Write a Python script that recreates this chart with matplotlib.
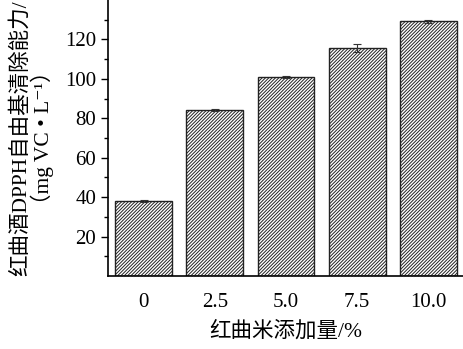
import numpy as np
import matplotlib
matplotlib.use('Agg')
import matplotlib.pyplot as plt

plt.rcParams['font.family'] = ['Liberation Serif', 'Noto Sans CJK SC', 'DejaVu Sans']
plt.rcParams['hatch.linewidth'] = 0.7
plt.rcParams['hatch.color'] = '#222222'

labels = ['0', '2.5', '5.0', '7.5', '10.0']
values = [38.0, 84.3, 100.7, 115.6, 129.1]
errors = [0.4, 0.6, 0.5, 2.0, 1.0]

fig = plt.figure(figsize=(4.64, 3.49), dpi=100)
ax = fig.add_axes([108/464, 73/349, 1 - 108/464, 276/349])

x = np.arange(len(labels))
ax.bar(x, values, width=0.8, color='white', edgecolor='#222222', hatch='//////////',
       linewidth=1.0, yerr=errors, capsize=3,
       error_kw=dict(ecolor='#333333', elinewidth=0.8, capthick=0.8))

ax.set_xlim(-0.5, 4.5)
ax.set_ylim(0, 140)
ax.set_xticks(x)
ax.set_xticklabels(labels, fontsize=15)
ax.set_yticks([20, 40, 60, 80, 100, 120])
ax.set_yticks(np.arange(10, 140, 20), minor=True)
ax.tick_params(axis='y', which='major', direction='out', length=5, width=1, labelsize=15)
ax.tick_params(axis='y', which='minor', direction='out', length=3, width=1)
ax.tick_params(axis='x', length=0, pad=12)
for s in ['top', 'right']:
    ax.spines[s].set_visible(False)
for s in ['left', 'bottom']:
    ax.spines[s].set_linewidth(1.2)

ax.set_xlabel('红曲米添加量/%', fontsize=15.5, labelpad=7)
ax.set_ylabel('红曲酒DPPH自由基清除能力/\n（mg VC • L⁻¹）', fontsize=15.5,
              linespacing=1.0, labelpad=8)

fig.savefig('out.png', dpi=100)
